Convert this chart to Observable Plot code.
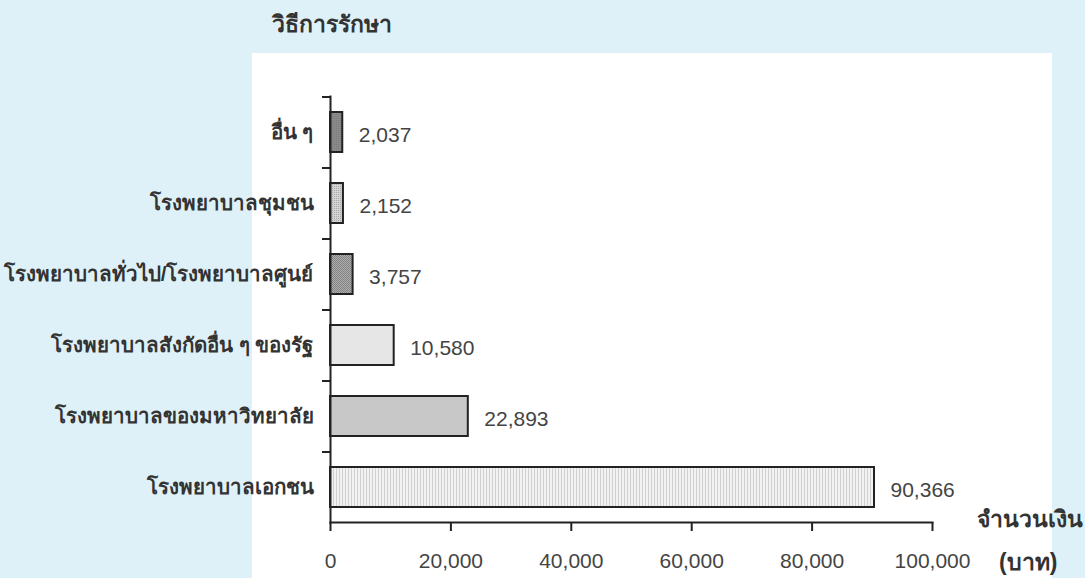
<!DOCTYPE html>
<html>
<head>
<meta charset="utf-8">
<script src="https://cdn.jsdelivr.net/npm/d3@7"></script>
<script src="https://cdn.jsdelivr.net/npm/@observablehq/plot@0.6"></script>
<style>
  html, body { margin: 0; padding: 0; }
  body { width: 1085px; height: 578px; background: #dff1f8; position: relative; overflow: hidden;
         font-family: "Liberation Sans", Arial, sans-serif; }
  #panel { position: absolute; left: 252px; top: 53px; width: 800px; height: 525px; background: #fff; }
  #title { position: absolute; left: 272px; top: 6px; font-size: 23px; font-weight: bold; color: #333; }
  #chart { position: absolute; left: 0; top: 0; }
  .xlab { position: absolute; font-weight: bold; font-size: 23px; line-height: 1; color: #333; white-space: nowrap; }
</style>
</head>
<body>
<div id="panel"></div>
<div id="title">วิธีการรักษา</div>
<div id="chart"></div>
<div class="xlab" style="left:977px; top:508px;">จำนวนเงิน</div>
<div class="xlab" style="left:999px; top:551px;">(บาท)</div>
<script>
const categories = ["อื่น ๆ", "โรงพยาบาลชุมชน", "โรงพยาบาลทั่วไป/โรงพยาบาลศูนย์", "โรงพยาบาลสังกัดอื่น ๆ ของรัฐ", "โรงพยาบาลของมหาวิทยาลัย", "โรงพยาบาลเอกชน"];
const values = [2037, 2152, 3757, 10580, 22893, 90366];
const xTicks = [0, 20000, 40000, 60000, 80000, 100000];

const data = categories.map((c, i) => ({category: c, value: values[i]}));
const fills = ["url(#pDark)", "url(#pDots)", "url(#pCheck)", "#e6e6e6", "#c8c8c8", "url(#pGrid)"];

const plot = Plot.plot({
  width: 1085,
  height: 578,
  marginLeft: 330,
  marginRight: 153,
  marginTop: 96,
  marginBottom: 56,
  style: {background: "transparent", fontFamily: "'Liberation Sans', Arial, sans-serif", overflow: "visible"},
  x: {domain: [0, 100000]},
  y: {domain: categories, paddingInner: 0.44, paddingOuter: 0.22},
  color: {domain: categories, range: fills},
  marks: [
    Plot.barX(data, {x: "value", y: "category", fill: "category", stroke: "#222", strokeWidth: 2}),
    Plot.text(data, {x: "value", y: "category", text: d => d3.format(",")(d.value), textAnchor: "start", dx: 16, dy: 3, fontSize: 21, fill: "#444"}),
    Plot.frame({anchor: "left", stroke: "#222", strokeWidth: 2}),
    Plot.frame({anchor: "bottom", stroke: "#222", strokeWidth: 2}),
    Plot.axisX({ticks: xTicks, tickFormat: d3.format(","), tickSize: 9, tickPadding: 22, fontSize: 21, color: "#444", stroke: "#222", strokeWidth: 2, label: null}),
    Plot.axisY({tickSize: 0, tickPadding: 17, fontSize: 20.5, fontWeight: "bold", fill: "#333", label: null}),
    Plot.axisY({tickSize: 8, text: null, dy: -35.5, stroke: "#222", strokeWidth: 2, label: null})
  ]
});

const svg = d3.select(plot);
const defs = svg.insert("defs", ":first-child");
let p = defs.append("pattern").attr("id", "pDark").attr("width", 2).attr("height", 2).attr("patternUnits", "userSpaceOnUse");
p.append("rect").attr("width", 2).attr("height", 2).attr("fill", "#8a8a8a");
p.append("rect").attr("width", 1).attr("height", 1).attr("fill", "#7a7a7a");
p = defs.append("pattern").attr("id", "pDots").attr("width", 2).attr("height", 2).attr("patternUnits", "userSpaceOnUse");
p.append("rect").attr("width", 2).attr("height", 2).attr("fill", "#d2d2d2");
p.append("rect").attr("width", 1).attr("height", 1).attr("fill", "#aaaaaa");
p = defs.append("pattern").attr("id", "pCheck").attr("width", 2).attr("height", 2).attr("patternUnits", "userSpaceOnUse");
p.append("rect").attr("width", 2).attr("height", 2).attr("fill", "#b0b0b0");
p.append("rect").attr("width", 1).attr("height", 1).attr("fill", "#808080");
p.append("rect").attr("x", 1).attr("y", 1).attr("width", 1).attr("height", 1).attr("fill", "#808080");
p = defs.append("pattern").attr("id", "pGrid").attr("width", 3).attr("height", 3).attr("patternUnits", "userSpaceOnUse");
p.append("rect").attr("width", 3).attr("height", 3).attr("fill", "#f2f2f2");
p.append("rect").attr("width", 1).attr("height", 3).attr("fill", "#d0d0d0");

document.getElementById("chart").appendChild(plot);
</script>
</body>
</html>
